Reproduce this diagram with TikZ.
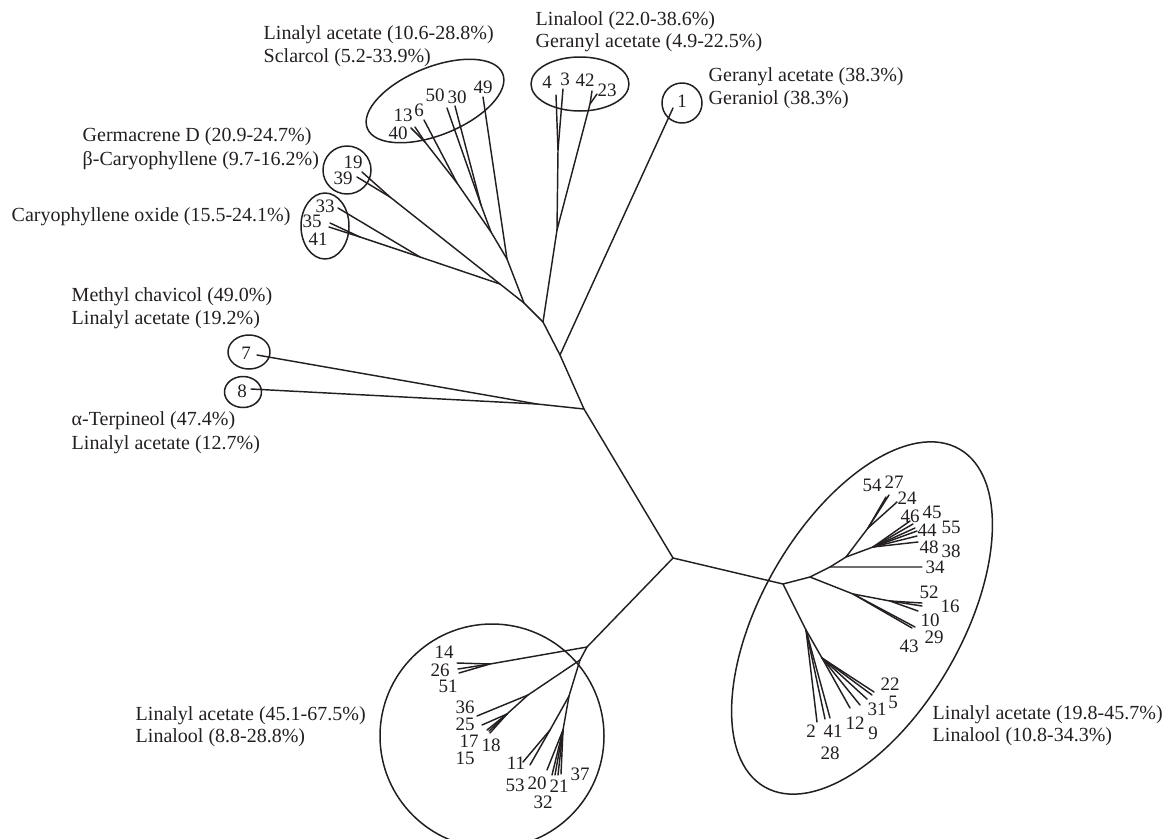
\documentclass[tikz,border=0pt]{standalone}
\usepackage{fontspec}
\setmainfont{Liberation Serif}
\definecolor{ink}{HTML}{231F20}
\begin{document}
\begin{tikzpicture}[x=1pt,y=-1pt,line width=1.45pt,line cap=round,line join=round,draw=ink,
  lbl/.style={inner sep=0pt,text=ink,font=\fontsize{19}{22}\selectfont},
  txt/.style={anchor=west,inner sep=0pt,text=ink,font=\fontsize{20}{23}\selectfont},
  ring/.style={draw=ink,line width=1.5pt}]
\useasboundingbox (0,0) rectangle (1167,838);
% ---------------- junctions ----------------
\coordinate (C) at (673,558);
\coordinate (J1) at (584,409);
\coordinate (J2) at (560,355);
\coordinate (J3) at (543,322);
\coordinate (J4) at (524,303);
\coordinate (J5) at (500,284);
\coordinate (J78) at (537,404);
\coordinate (L1) at (557,230);
\coordinate (L2) at (558,150);
\coordinate (L3) at (590,104);
\coordinate (S1) at (507,259);
\coordinate (S2) at (491,232);
\coordinate (S3) at (481,205);
\coordinate (S4) at (457,183);
\coordinate (S5) at (425,142);
\coordinate (K1) at (420,257);
\coordinate (K2) at (360,237);
\coordinate (K3) at (390,197);
\coordinate (R1) at (783,584);
\coordinate (R2) at (810,577);
\coordinate (R4) at (830,567);
\coordinate (R5) at (846,557);
\coordinate (R6) at (873,547);
\coordinate (R11) at (868,528);
\coordinate (R7) at (853,594);
\coordinate (R8) at (890,601);
\coordinate (R9) at (806,630);
\coordinate (R10) at (822,658);
\coordinate (B1) at (587,647);
\coordinate (B2) at (580,660);
\coordinate (B3) at (528,695);
\coordinate (B4) at (569,696);
\coordinate (B5) at (563,730);
\coordinate (B6) at (507,714);
\coordinate (B7) at (550,730);
\coordinate (B8) at (490,664);
% ---------------- leaf ends ----------------
\coordinate (e1) at (673,108);
\coordinate (e7) at (257,355);
\coordinate (e8) at (251,389);
\coordinate (e4) at (556,95);
\coordinate (e3) at (563,89);
\coordinate (e42) at (592,91);
\coordinate (e23) at (597,94);
\coordinate (e49) at (483,97);
\coordinate (e50) at (447,108);
\coordinate (e30) at (455,106);
\coordinate (e6) at (424,120);
\coordinate (e13) at (415,127);
\coordinate (e40) at (411,128);
\coordinate (e19) at (362,172);
\coordinate (e39) at (357,177);
\coordinate (e33) at (338,208);
\coordinate (e35) at (330,223);
\coordinate (e41) at (329,227);
\coordinate (e34) at (922,567);
\coordinate (e54) at (886,497);
\coordinate (e27) at (889,495);
\coordinate (e24) at (897,502);
\coordinate (e46) at (910,521);
\coordinate (e45) at (913,524);
\coordinate (e44) at (915,528);
\coordinate (e55) at (917,531);
\coordinate (e38) at (917,536);
\coordinate (e48) at (918,542);
\coordinate (e52) at (922,603);
\coordinate (e16) at (922,606);
\coordinate (e10) at (918,611);
\coordinate (e43) at (912,628);
\coordinate (e29) at (915,627);
\coordinate (e2) at (817,722);
\coordinate (e28) at (825,719);
\coordinate (e41b) at (830,718);
\coordinate (e12) at (850,708);
\coordinate (e9) at (860,705);
\coordinate (e31) at (867,699);
\coordinate (e5) at (872,695);
\coordinate (e22) at (874,692);
\coordinate (e14) at (457,663);
\coordinate (e26) at (458,669);
\coordinate (e51) at (459,673);
\coordinate (e36) at (477,716);
\coordinate (e25) at (482,725);
\coordinate (e17) at (487,730);
\coordinate (e18) at (490,733);
\coordinate (e15) at (489,731);
\coordinate (e11) at (523,762);
\coordinate (e53) at (530,765);
\coordinate (e20) at (547,770);
\coordinate (e32) at (552,775);
\coordinate (e21) at (555,775);
\coordinate (e21b) at (558,775);
\coordinate (e37) at (561,774);
% ---------------- branches ----------------
\draw (C) -- (J1) -- (J2) -- (J3) -- (J4) -- (J5) -- (K3) -- (e19);
\draw (K3) -- (e39);
\draw (J5) -- (K1) -- (e33);
\draw (K1) -- (K2) -- (e35);
\draw (K2) -- (e41);
\draw (J4) -- (S1) -- (e49);
\draw (S1) -- (S2) -- (S3) -- (e50);
\draw (S3) -- (e30);
\draw (S2) -- (S4) -- (e6);
\draw (S4) -- (S5) -- (e13);
\draw (S5) -- (e40);
\draw (J3) -- (L1) -- (L2) -- (e4);
\draw (L2) -- (e3);
\draw (L1) -- (L3) -- (e42);
\draw (L3) -- (e23);
\draw (J2) -- (e1);
\draw (J1) -- (J78) -- (e7);
\draw (J78) -- (e8);
% right cluster
\draw (C) -- (R1) -- (R2) -- (R4) -- (e34);
\draw (R4) -- (R5) -- (R11) -- (e54);
\draw (R11) -- (e27);
\draw (R11) -- (e24);
\draw (R5) -- (R6) -- (e46);
\draw (R6) -- (e45);
\draw (R6) -- (e44);
\draw (R6) -- (e55);
\draw (R6) -- (e38);
\draw (R6) -- (e48);
\draw (R2) -- (R7) -- (R8) -- (e52);
\draw (R8) -- (e16);
\draw (R8) -- (e10);
\draw (R7) -- (e43);
\draw (R7) -- (e29);
\draw (R1) -- (R9) -- (e2);
\draw (R9) -- (e28);
\draw (R9) -- (e41b);
\draw (R9) -- (R10) -- (e12);
\draw (R10) -- (e9);
\draw (R10) -- (e31);
\draw (R10) -- (e5);
\draw (R10) -- (e22);
% bottom cluster
\draw (C) -- (B1) -- (B8) -- (e14);
\draw (B8) -- (e26);
\draw (B8) -- (e51);
\draw (B1) -- (B2) -- (B3) -- (e36);
\draw (B3) -- (B6) -- (e25);
\draw (B6) -- (e17);
\draw (B6) -- (e18);
\draw (B6) -- (e15);
\draw (B2) -- (B4) -- (B7) -- (e11);
\draw (B7) -- (e53);
\draw (B4) -- (B5) -- (e20);
\draw (B5) -- (e32);
\draw (B5) -- (e21);
\draw (B5) -- (e21b);
\draw (B5) -- (e37);
% ---------------- rings ----------------
\draw[ring,rotate around={22:(435,101)}] (435,101) ellipse [x radius=73,y radius=34];
\draw[ring] (580,84) ellipse [x radius=49,y radius=27];
\draw[ring] (682,103) circle [radius=20];
\draw[ring] (347,170) circle [radius=24];
\draw[ring] (325,226) ellipse [x radius=24,y radius=33];
\draw[ring] (249,352) ellipse [x radius=21,y radius=17];
\draw[ring] (243,392) ellipse [x radius=18.5,y radius=15.5];
\draw[ring] (492,736) circle [radius=112];
\draw[ring,rotate around={60:(862,618)}] (862,618) ellipse [x radius=195,y radius=100];
% ---------------- leaf labels ----------------
\node[lbl] (n1) at (682,101) {1};
\node[lbl] (n7) at (246,353) {7};
\node[lbl] (n8) at (242,391) {8};
\node[lbl] (n4) at (547,82) {4};
\node[lbl] (n3) at (565,79) {3};
\node[lbl] (n42) at (585,80) {42};
\node[lbl] (n23) at (607,90) {23};
\node[lbl] (n13) at (403,115) {13};
\node[lbl] (n6) at (419,110) {6};
\node[lbl] (n50) at (435,95) {50};
\node[lbl] (n30) at (457,97) {30};
\node[lbl] (n49) at (483,87) {49};
\node[lbl] (n40) at (398,133) {40};
\node[lbl] (n19) at (353,162) {19};
\node[lbl] (n39) at (343,178) {39};
\node[lbl] (n33) at (325,206) {33};
\node[lbl] (n35) at (312,221) {35};
\node[lbl] (n41) at (318,239) {41};
\node[lbl] (n54) at (872,485) {54};
\node[lbl] (n27) at (894,482) {27};
\node[lbl] (n24) at (907,498) {24};
\node[lbl] (n46) at (910,516) {46};
\node[lbl] (n45) at (932,512) {45};
\node[lbl] (n44) at (927,530) {44};
\node[lbl] (n55) at (951,527) {55};
\node[lbl] (n48) at (929,547) {48};
\node[lbl] (n38) at (951,551) {38};
\node[lbl] (n34) at (935,567) {34};
\node[lbl] (n52) at (929,592) {52};
\node[lbl] (n16) at (950,606) {16};
\node[lbl] (n10) at (930,620) {10};
\node[lbl] (n43) at (909,646) {43};
\node[lbl] (n29) at (934,637) {29};
\node[lbl] (n22) at (890,684) {22};
\node[lbl] (n5) at (893,702) {5};
\node[lbl] (n31) at (877,709) {31};
\node[lbl] (n12) at (855,723) {12};
\node[lbl] (n9) at (873,733) {9};
\node[lbl] (n2) at (811,731) {2};
\node[lbl] (n41b) at (833,731) {41};
\node[lbl] (n28) at (830,753) {28};
\node[lbl] (n14) at (444,652) {14};
\node[lbl] (n26) at (440,670) {26};
\node[lbl] (n51) at (448,686) {51};
\node[lbl] (n36) at (465,707) {36};
\node[lbl] (n25) at (465,724) {25};
\node[lbl] (n17) at (469,741) {17};
\node[lbl] (n18) at (491,745) {18};
\node[lbl] (n15) at (465,758) {15};
\node[lbl] (n11) at (516,763) {11};
\node[lbl] (n53) at (515,785) {53};
\node[lbl] (n20) at (537,783) {20};
\node[lbl] (n21) at (559,786) {21};
\node[lbl] (n37) at (580,774) {37};
\node[lbl] (n32) at (543,802) {32};
% ---------------- group texts ----------------
\node[txt] (t1a) at (263,35) {Linalyl acetate (10.6-28.8\%)};
\node[txt] (t1b) at (263,58) {Sclarcol (5.2-33.9\%)};
\node[txt] (t2a) at (535,21) {Linalool (22.0-38.6\%)};
\node[txt] (t2b) at (535,43) {Geranyl acetate (4.9-22.5\%)};
\node[txt] (t3a) at (708,77) {Geranyl acetate (38.3\%)};
\node[txt] (t3b) at (708,100) {Geraniol (38.3\%)};
\node[txt] (t4a) at (82,137) {Germacrene D (20.9-24.7\%)};
\node[txt] (t4b) at (82,161) {β-Caryophyllene (9.7-16.2\%)};
\node[txt] (t5) at (11,217) {Caryophyllene oxide (15.5-24.1\%)};
\node[txt] (t6a) at (71,297) {Methyl chavicol (49.0\%)};
\node[txt] (t6b) at (71,320) {Linalyl acetate (19.2\%)};
\node[txt] (t7a) at (71,421) {α-Terpineol (47.4\%)};
\node[txt] (t7b) at (71,445) {Linalyl acetate (12.7\%)};
\node[txt] (t8a) at (135,716) {Linalyl acetate (45.1-67.5\%)};
\node[txt] (t8b) at (135,738) {Linalool (8.8-28.8\%)};
\node[txt] (t9a) at (932,715) {Linalyl acetate (19.8-45.7\%)};
\node[txt] (t9b) at (932,737) {Linalool (10.8-34.3\%)};
\end{tikzpicture}
\end{document}
